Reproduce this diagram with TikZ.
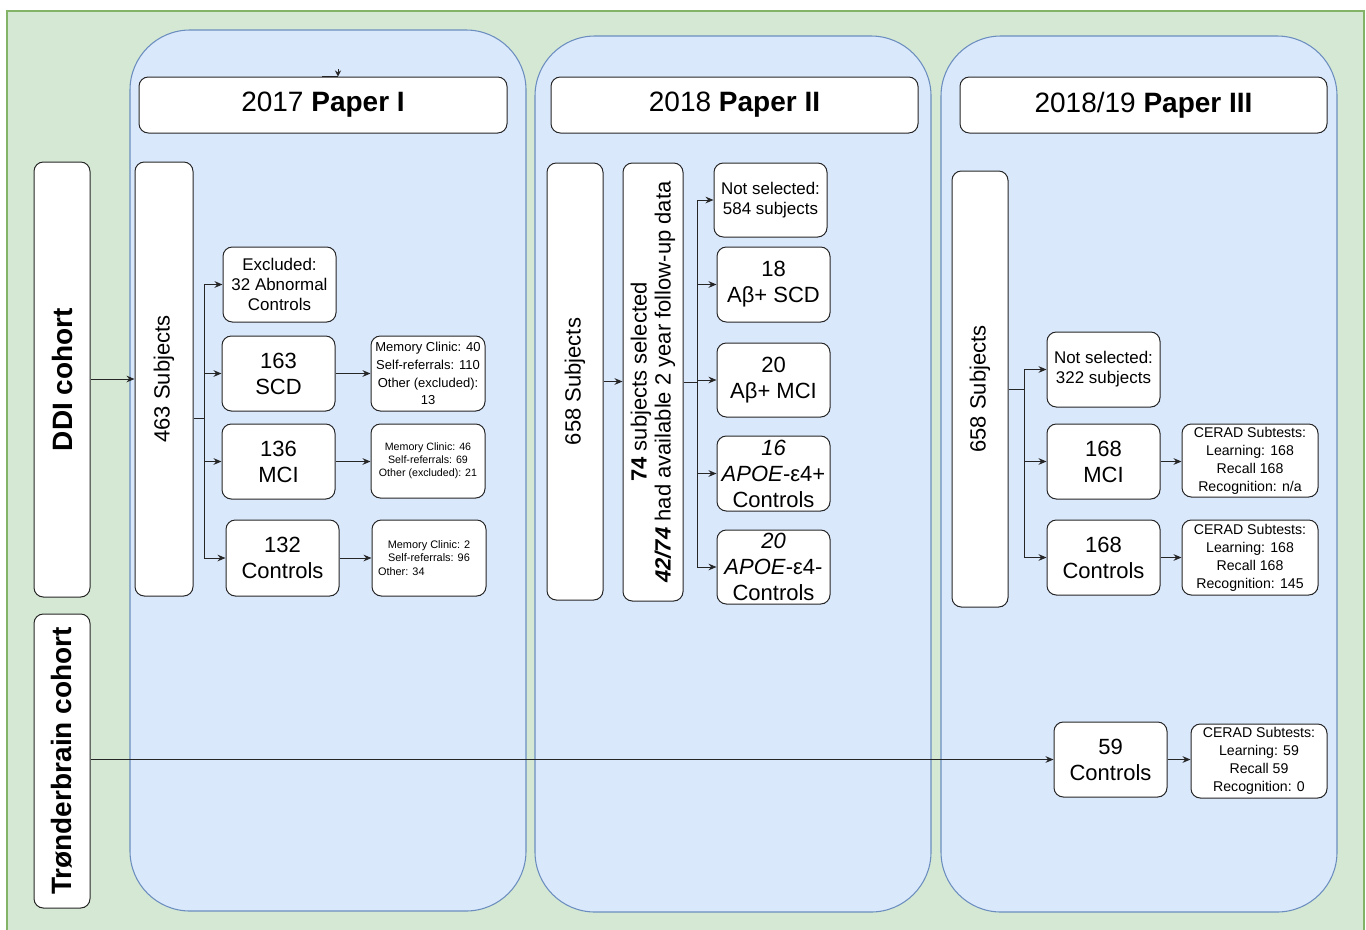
\documentclass[tikz,border=0pt]{standalone}
\usepackage{fontspec}
\setmainfont{Liberation Sans}
\usetikzlibrary{arrows.meta}
\definecolor{bgF}{HTML}{D5E8D4}
\definecolor{bgD}{HTML}{82B366}
\definecolor{blueF}{HTML}{DAE8FC}
\definecolor{blueD}{HTML}{6C8EBF}
\newcommand\fs[2]{\fontsize{#1}{#2}\selectfont}
% [options]{name}{x1}{y1}{x2}{y2}{text}  (pixel coordinates)
\newcommand\bnode[7][]{%
  \pgfmathsetmacro\bnw{(#5-#3)*0.75}%
  \pgfmathsetmacro\bnh{(#6-#4)*0.75}%
  \pgfmathsetmacro\bnx{(#3+#5)/2}%
  \pgfmathsetmacro\bny{(#4+#6)/2}%
  \node[box, minimum width=\bnw pt, minimum height=\bnh pt, #1] (#2) at (\bnx,\bny) {#7};%
}
\tikzset{
  bgbox/.style={fill=bgF, draw=bgD, line width=0.8pt, inner sep=0pt},
  panel/.style={fill=blueF, draw=blueD, line width=0.8pt, rounded corners=45pt, inner sep=0pt},
  box/.style={fill=white, draw=black!85, line width=0.75pt, rounded corners=7pt, inner sep=0pt, align=center},
  ftitle/.style={font=\fs{21}{25}},
  fbig/.style={font=\fs{16.5}{19.5}},
  fmid/.style={font=\fs{12.7}{15}},
  fcer/.style={font=\fs{10.6}{13.5}},
  conn/.style={line width=0.75pt, draw=black!85},
  arr/.style={conn, -{Stealth[length=6pt,width=5pt]}},
  smallarr/.style={conn, -{Stealth[length=4.5pt,width=4.5pt]}}
}
\begin{document}
\begin{tikzpicture}[x=0.75pt,y=-0.75pt]
\useasboundingbox (0,0) rectangle (1366,929);
\fill[white] (0,0) rectangle (1366,929);
\bnode[bgbox, rounded corners=0pt]{BG}{7}{11}{1364}{945}{}
% panels
\bnode[panel]{P1}{130}{30}{526}{911}{}
\bnode[panel]{P2}{535}{36}{931}{912}{}
\bnode[panel]{P3}{941}{36}{1337}{912}{}
% titles
\bnode[ftitle]{T1}{139}{77}{507}{133}{2017 \textbf{Paper I}}
\bnode[ftitle]{T2}{551}{77}{918}{133}{2018 \textbf{Paper II}}
\bnode[ftitle]{T3}{960}{77}{1327}{133}{2018/19 \textbf{Paper III}}
% cohorts
\bnode[label={[rotate=90, font=\fs{21}{25}\bfseries]center:DDI cohort}]{DDI}{34}{162}{90}{597}{}
\bnode[label={[rotate=90, font=\fs{21}{25}\bfseries]center:Trønderbrain cohort}]{TRB}{34}{614}{90}{908}{}
% panel 1
\bnode[label={[rotate=90, fbig]center:463 Subjects}]{S463}{135}{162}{193}{596}{}
\bnode[fmid]{EXC}{223}{247}{336}{322}{Excluded:\\32 Abnormal\\Controls}
\bnode[fbig]{SCD}{222}{336}{335}{411}{163\\SCD}
\bnode[fbig]{MCI1}{222}{424}{335}{499}{136\\MCI}
\bnode[fbig]{CON1}{226}{520}{339}{596}{132\\Controls}
\bnode[font=\fs{9.75}{13.3}]{SCDs}{371}{336}{485}{411}{Memory Clinic: 40\\Self-referrals: 110\\Other (excluded):\\13}
\bnode[font=\fs{8}{9.75}]{MCIs}{371}{424}{485}{498}{Memory Clinic: 46\\Self-referrals: 69\\Other (excluded): 21}
\bnode[font=\fs{8.2}{10}]{CONs}{372}{520}{486}{596}{Memory Clinic: 2\\Self-referrals: 96\\\makebox[76.5pt][l]{Other: 34}}
% panel 2
\bnode[label={[rotate=90, fbig]center:658 Subjects}]{S658a}{547}{163}{603}{600}{}
\bnode[label={[rotate=90, align=center, font=\fs{16.5}{18}]center:\textbf{74} subjects selected\\\textbf{\textit{42/74}} had available 2 year follow-up data}]{SEL}{623}{163}{683}{601}{}
\bnode[fmid]{NS1}{714}{163}{827}{237}{Not selected:\\584 subjects}
\bnode[fbig]{B18}{717}{247}{830}{322}{18\\Aβ+ SCD}
\bnode[fbig]{B20}{717}{343}{830}{417}{20\\Aβ+ MCI}
\bnode[fbig]{B16}{717}{436}{830}{511}{\textit{16}\\\textit{APOE}-ε4+\\Controls}
\bnode[fbig]{B20b}{717}{530}{830}{604}{\textit{20}\\\textit{APOE}-ε4-\\Controls}
% panel 3
\bnode[label={[rotate=90, fbig]center:658 Subjects}]{S658b}{952}{171}{1008}{607}{}
\bnode[fmid]{NS2}{1047}{332}{1160}{407}{Not selected:\\322 subjects}
\bnode[fbig]{MCI3}{1047}{424}{1160}{499}{168\\MCI}
\bnode[fbig]{CON3}{1047}{520}{1160}{595}{168\\Controls}
\bnode[fcer]{CER1}{1182}{424}{1318}{497}{CERAD Subtests:\\Learning: 168\\Recall 168\\Recognition: n/a}
\bnode[fcer]{CER2}{1182}{520}{1318}{595}{CERAD Subtests:\\Learning: 168\\Recall 168\\Recognition: 145}
\bnode[fbig]{C59}{1054}{722}{1167}{797}{59\\Controls}
\bnode[fcer]{CER3}{1191}{724}{1327}{798}{CERAD Subtests:\\Learning: 59\\Recall 59\\Recognition: 0}
% stray connector at top of panel 1
\coordinate (st) at (322,76);
\coordinate (st2) at (338,69);
\draw[conn] (st) -- (st -| st2);
\draw[smallarr] (st2) -- (st2 |- T1.north);
% connectors panel 1
\draw[arr] (DDI.east |- S463) -- (S463.west);
\coordinate (J1) at (204,418);
\draw[conn] (S463.east |- J1) -- (J1);
\foreach \b in {EXC,SCD,MCI1,CON1} \draw[arr] (J1) |- (\b.west);
\draw[arr] (SCD.east) -- (SCD.east -| SCDs.west);
\draw[arr] (MCI1.east) -- (MCI1.east -| MCIs.west);
\draw[arr] (CON1.east) -- (CON1.east -| CONs.west);
% connectors panel 2
\draw[arr] (S658a.east) -- (S658a.east -| SEL.west);
\coordinate (J2) at (697,382);
\draw[conn] (SEL.east |- J2) -- (J2);
\foreach \b in {NS1,B18,B20,B16,B20b} \draw[arr] (J2) |- (\b.west);
% connectors panel 3
\coordinate (J3) at (1024,389);
\draw[conn] (S658b.east |- J3) -- (J3);
\foreach \b in {NS2,MCI3,CON3} \draw[arr] (J3) |- (\b.west);
\draw[arr] (MCI3.east) -- (MCI3.east -| CER1.west);
\draw[arr] (CON3.east) -- (CON3.east -| CER2.west);
% Trønderbrain
\draw[arr] (TRB.east |- C59) -- (C59.west);
\draw[arr] (C59.east) -- (C59.east -| CER3.west);
\end{tikzpicture}
\end{document}
